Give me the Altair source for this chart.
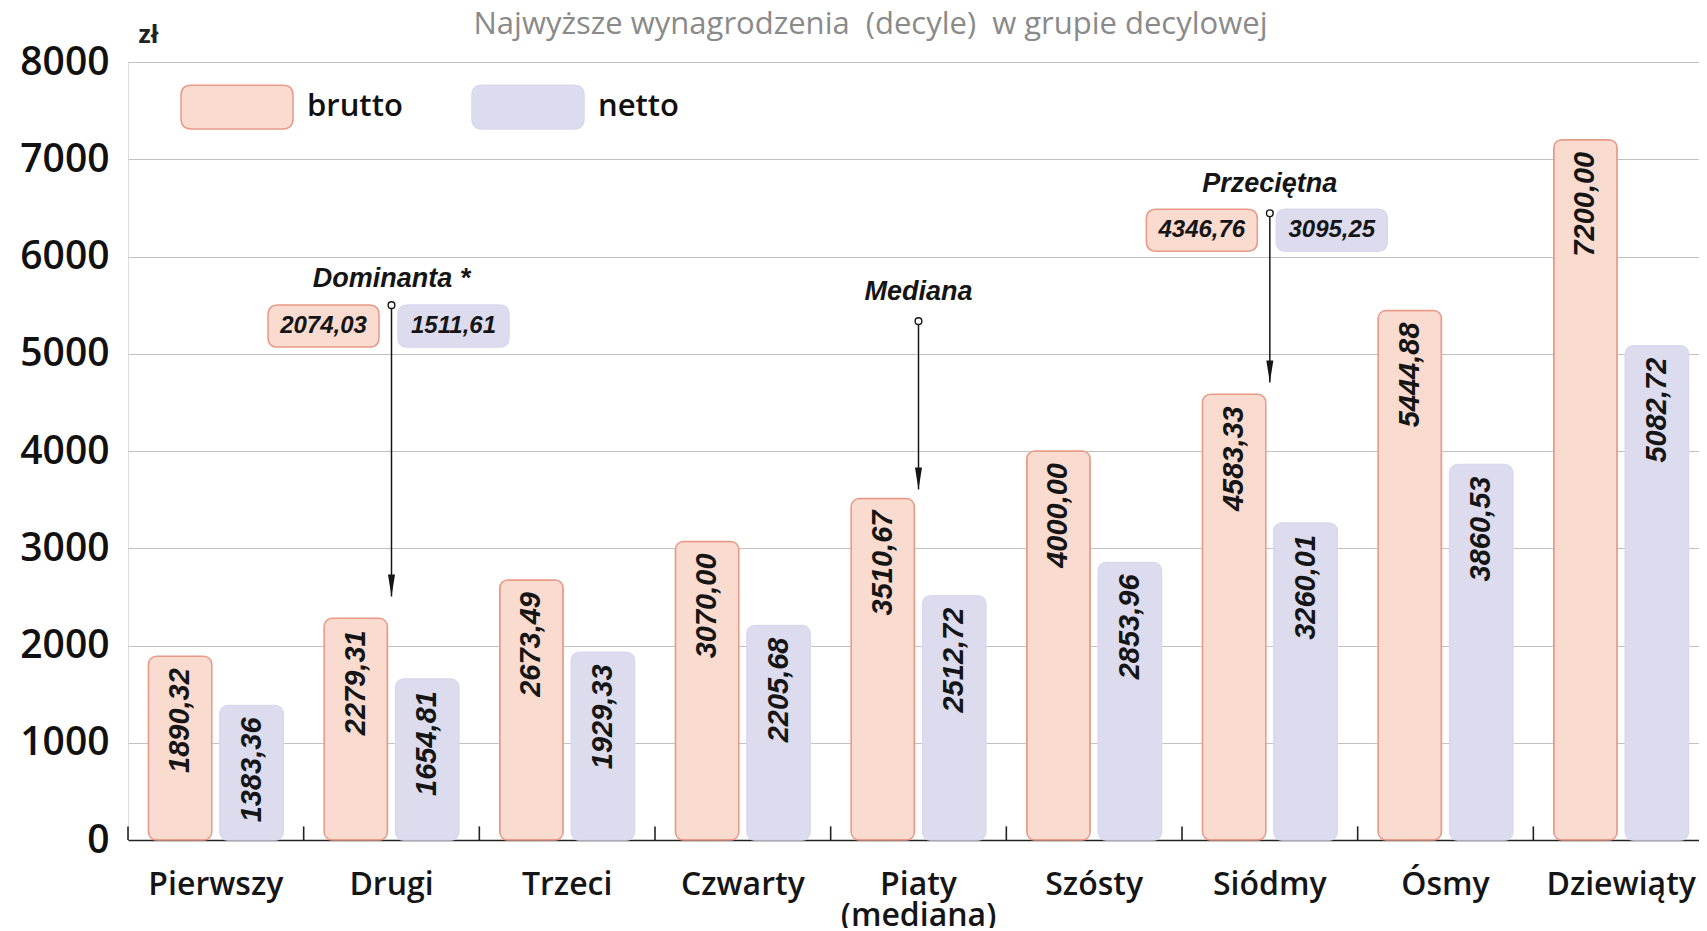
import altair as alt
import pandas as pd

# ---------------- data ----------------
categories = ["Pierwszy", "Drugi", "Trzeci", "Czwarty", "Piaty (mediana)",
              "Szósty", "Siódmy", "Ósmy", "Dziewiąty"]
series = ["brutto", "netto"]
brutto = [1890.32, 2279.31, 2673.49, 3070.00, 3510.67, 4000.00, 4583.33, 5444.88, 7200.00]
netto = [1383.36, 1654.81, 1929.33, 2205.68, 2512.72, 2853.96, 3260.01, 3860.53, 5082.72]
y_ticks = [0, 1000, 2000, 3000, 4000, 5000, 6000, 7000, 8000]

ann_names = ["Dominanta *", "Mediana", "Przeciętna"]
ann_categories = ["Drugi", "Piaty (mediana)", "Siódmy"]
ann_brutto = [2074.03, None, 4346.76]
ann_netto = [1511.61, None, 3095.25]
# annotation anchor levels on the zł scale
ann_label_level = [5770, 5640, 6745]
ann_circle_level = [5500, 5335, 6445]
ann_box_level = [5285, None, 6270]
ann_tip_level = [2505, 3605, 4705]

title_text = "Najwyższe wynagrodzenia \u00a0(decyle) \u00a0w grupie decylowej"


def fmt(v):
    return f"{v:.2f}".replace(".", ",")


rows = []
for c, b, n in zip(categories, brutto, netto):
    rows.append({"cat": c, "series": "brutto", "value": b, "label": fmt(b)})
    rows.append({"cat": c, "series": "netto", "value": n, "label": fmt(n)})
bars_df = pd.DataFrame(rows)

ann_df = pd.DataFrame({
    "name": ann_names, "cat": ann_categories,
    "label_level": ann_label_level, "circle_level": ann_circle_level,
    "tip_level": ann_tip_level,
})
box_rows = []
for c, b, n, lvl in zip(ann_categories, ann_brutto, ann_netto, ann_box_level):
    if b is not None:
        box_rows.append({"cat": c, "series": "brutto", "level": lvl, "label": fmt(b)})
        box_rows.append({"cat": c, "series": "netto", "level": lvl, "label": fmt(n)})
box_df = pd.DataFrame(box_rows)
tick_df = pd.DataFrame({"cat": categories})

# ---------------- styles ----------------
FILL = ["#f9dbd0", "#dddcef"]
STROKE = ["#e99a88", "#d9d8ee"]
W, H = 1571, 778
X_RANGE = 1581  # the last category runs slightly past the right edge


def rrect(hh, r):
    return (f"M{-1 + r},{-hh} L{1 - r},{-hh} Q1,{-hh} 1,{-hh + r} L1,{hh - r} "
            f"Q1,{hh} {1 - r},{hh} L{-1 + r},{hh} Q-1,{hh} -1,{hh - r} "
            f"L-1,{-hh + r} Q-1,{-hh} {-1 + r},{-hh} Z")


LEGEND_SHAPE = rrect(0.39, 0.18)
BOX_SHAPE = rrect(0.38, 0.18)
ARROW_SHAPE = "M-0.32,-1 L0.32,-1 L0,1 Z"

x_scale = alt.Scale(domain=categories, paddingInner=0, paddingOuter=0, range=[0, X_RANGE])
x_axis = alt.Axis(title=None, labelAngle=0, labelFont="Open Sans", labelFontSize=32,
                  labelFontWeight=600, labelColor="#151515", labelPadding=29,
                  labelExpr="split(datum.value, ' ')", labelLineHeight=31,
                  ticks=False, domain=True, domainColor="#222222", domainWidth=1.6,
                  grid=False)
x_enc = alt.X("cat:N", sort=categories, scale=x_scale, axis=x_axis)


def y_enc(field):
    return alt.Y(
        field, type="quantitative",
        scale=alt.Scale(domain=[0, 8000], nice=False, zero=True),
        axis=alt.Axis(values=y_ticks, format="d", title="zł", titleAngle=0,
                      titleX=10, titleY=-28, titleAlign="left", titleBaseline="middle",
                      titleFont="Open Sans", titleFontSize=25, titleFontWeight="bold",
                      titleColor="#222", labelFont="Open Sans", labelFontSize=39,
                      labelFontWeight=600, labelColor="#111", labelPadding=19,
                      domain=False, ticks=False, grid=True, gridColor="#c2c2c2",
                      gridWidth=1.2),
    )


xoff = alt.XOffset("series:N", sort=series,
                   scale=alt.Scale(domain=series, paddingInner=0.113, paddingOuter=0.286))

legend = alt.Legend(orient="none", legendX=52, legendY=-12, direction="horizontal",
                    title=None, symbolType=LEGEND_SHAPE, symbolSize=12544,
                    symbolStrokeWidth=1.5, labelFont="Open Sans", labelFontSize=31,
                    labelFontWeight=600, labelColor="#111", labelOffset=13,
                    columnPadding=66, padding=0, symbolOpacity=1)

bars = alt.Chart(bars_df).mark_bar(cornerRadius=8, strokeWidth=1.5).encode(
    x=x_enc, xOffset=xoff, y=y_enc("value"),
    fill=alt.Fill("series:N", sort=series, scale=alt.Scale(domain=series, range=FILL),
                  legend=legend),
    stroke=alt.Stroke("series:N", sort=series, scale=alt.Scale(domain=series, range=STROKE),
                      legend=legend),
)

bar_labels = alt.Chart(bars_df).mark_text(
    angle=270, align="right", baseline="middle", font="Liberation Sans",
    fontStyle="italic", fontWeight="bold", fontSize=29, yOffset=12, color="#151515",
).encode(x=x_enc, xOffset=xoff, y=y_enc("value"), text="label:N")

ticks = alt.Chart(tick_df).mark_rule(color="#222222", strokeWidth=1.6).encode(
    x=alt.X("cat:N", sort=categories, bandPosition=0, scale=x_scale, axis=x_axis),
    y=alt.datum(0, type="quantitative"), y2=alt.datum(140),
)

ann_text = alt.Chart(ann_df).mark_text(
    font="Liberation Sans", fontStyle="italic", fontWeight="bold", fontSize=27,
    baseline="middle", align="center", color="#151515",
).encode(x=x_enc, y=y_enc("label_level"), text="name:N")

ann_rule = alt.Chart(ann_df).mark_rule(color="#151515", strokeWidth=1.5).encode(
    x=x_enc, y=y_enc("circle_level"), y2="tip_level:Q")

ann_circle = alt.Chart(ann_df).mark_point(
    shape="circle", size=45, filled=True, fill="white", stroke="#151515",
    strokeWidth=1.4, opacity=1,
).encode(x=x_enc, y=y_enc("circle_level"))

ann_arrow = alt.Chart(ann_df).mark_point(
    shape=ARROW_SHAPE, size=484, filled=True, color="#151515", opacity=1, yOffset=-11,
).encode(x=x_enc, y=y_enc("tip_level"))


def box_layers(s, off, fill, stroke):
    d = box_df[box_df["series"] == s]
    box = alt.Chart(d).mark_point(
        shape=BOX_SHAPE, size=111 * 111, filled=True, fill=fill, stroke=stroke,
        strokeWidth=1.5, opacity=1, xOffset=off,
    ).encode(x=x_enc, y=y_enc("level"))
    txt = alt.Chart(d).mark_text(
        font="Liberation Sans", fontStyle="italic", fontWeight="bold", fontSize=24,
        baseline="middle", align="center", color="#151515", xOffset=off,
    ).encode(x=x_enc, y=y_enc("level"), text="label:N")
    return [box, txt]


layers = [ticks, bars, bar_labels, ann_rule, ann_circle, ann_arrow, ann_text]
layers += box_layers("brutto", -68, FILL[0], STROKE[0])
layers += box_layers("netto", 62, FILL[1], STROKE[1])

chart = alt.layer(*layers).properties(
    width=W, height=H,
    title=alt.TitleParams(text=title_text, font="Open Sans", fontSize=31,
                          fontWeight=500, color="#8a8a8a", anchor="middle",
                          dx=-43, dy=19, offset=0, frame="group"),
    autosize=alt.AutoSizeParams(type="none"),
    padding={"left": 120, "top": 54, "right": 0, "bottom": 88},
).configure_view(stroke=None).configure(background="white")

chart.save("out.html", embed_options={"renderer": "svg", "actions": False})
